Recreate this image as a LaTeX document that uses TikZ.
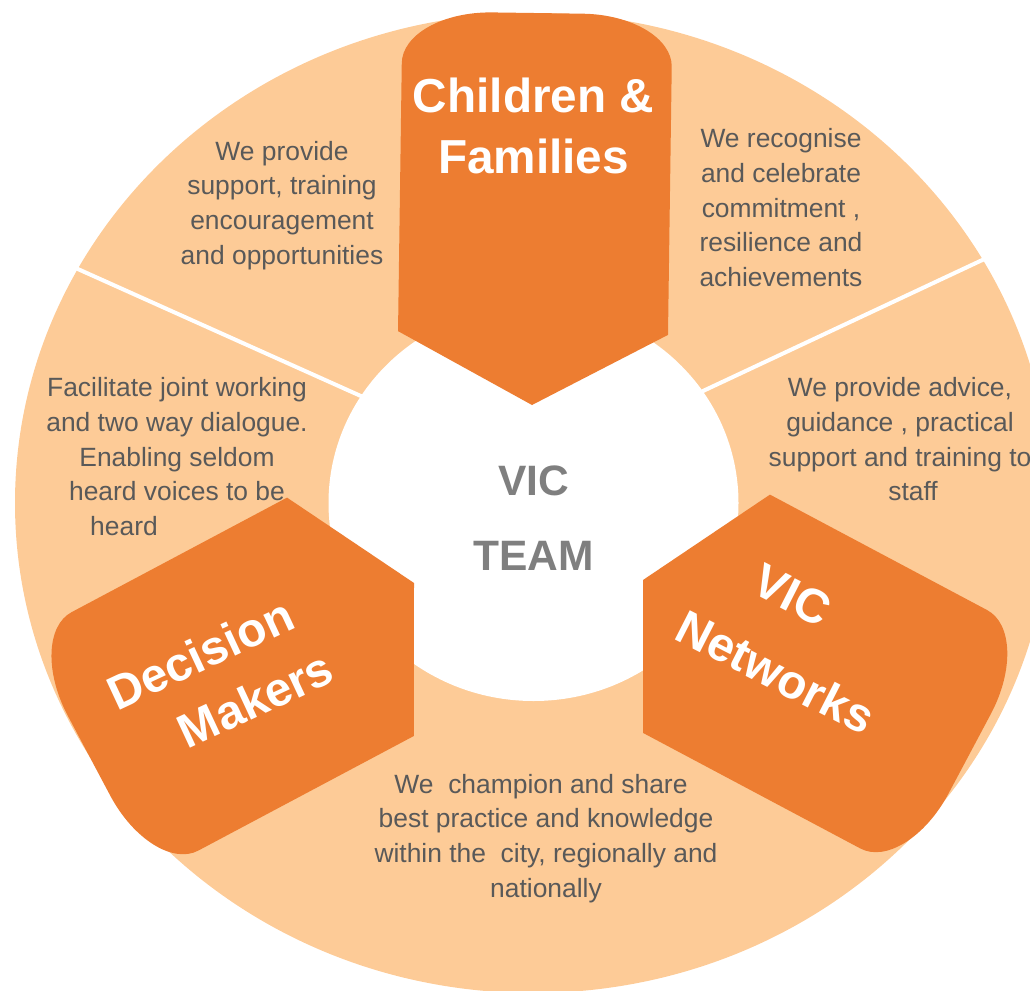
\documentclass[tikz,border=0pt]{standalone}
\usepackage{fontspec}
\setmainfont{Liberation Sans}
\definecolor{peach}{HTML}{FDCB97}
\definecolor{dorange}{HTML}{ED7D31}
\definecolor{bodygray}{HTML}{595959}
\definecolor{teamgray}{HTML}{7F7F7F}
\newcommand{\petalshape}[1]{%
  \fill[dorange] (0,0) -- (135,-72) -- (135,{-#1+52})
    .. controls (135,{-#1+23.3}) and (94.7,-#1) .. (45,-#1) -- (-45,-#1)
    .. controls (-94.7,-#1) and (-135,{-#1+23.3}) .. (-135,{-#1+52})
    -- (-135,-72) -- cycle;}
\tikzset{
  body/.style={font=\fontsize{26.4}{34.6}\selectfont, text=bodygray, align=center, inner sep=0pt, anchor=north},
  title/.style={font=\bfseries\fontsize{47.7}{61}\selectfont, text=white, inner sep=0pt},
  team/.style={font=\bfseries\fontsize{42.5}{75}\selectfont, text=teamgray, align=center, inner sep=0pt, anchor=north},
  divider/.style={draw=white, line width=4pt}
}
\begin{document}
\begin{tikzpicture}[x=1pt,y=-1pt]
\useasboundingbox (0,0) rectangle (1030,990);
\clip (0,0) rectangle (1030,990);
% outer ring
\fill[peach] (533,503) ellipse [x radius=518, y radius=490];
% dividers
\coordinate (d1a) at (70,265.5);
\coordinate (d1b) at (380,404.6);
\coordinate (d2a) at (990,256.4);
\coordinate (d2b) at (690,397.1);
\draw[divider] (d1a) -- (d1b);
\draw[divider] (d2a) -- (d2b);
% inner white circle
\fill[white] (533.5,503) ellipse [x radius=205, y radius=198];
% petals
\begin{scope}[shift={(532,405)},rotate=-0.8]
  \petalshape{392}
\end{scope}
\begin{scope}[shift={(414,583)},rotate=118]
  \petalshape{368}
\end{scope}
\begin{scope}[shift={(643,580)},rotate=-118]
  \petalshape{370}
\end{scope}
% titles
\node[title, align=center, anchor=north] (cf) at (533.5,69.3) {\strut Children \&\\Families};
\node[title, rotate=25, anchor=base] (dm1) at (207.5,669) {Decision};
\node[title, rotate=25, anchor=base] (dm2) at (262.5,715) {Makers};
\node[title, rotate=-27, anchor=base] (vn1) at (784.8,610) {VIC};
\node[title, rotate=-27, anchor=base] (vn2) at (768,687) {Networks};
\node[team] (team) at (533.5,442.5) {\strut VIC\\TEAM};
% body texts
\node[body] (t1) at (282,135.8) {\strut We provide\\support, training\\encouragement\\and opportunities};
\node[body] (t2) at (781,123.5) {\strut We recognise\\and celebrate\\commitment ,\\resilience and\\achievements};
\node[body] (t3) at (177,372.5) {\strut Facilitate joint working\\and two way dialogue.\\Enabling seldom\\heard voices to be\hspace*{41pt}\\heard\hspace*{106pt}};
\node[body] (t4) at (900,372.5) {\strut We provide advice,\\guidance , practical\\support and training to\\\hspace*{26pt}staff};
\node[body] (t5) at (546,768.8) {\strut We~ champion and share\hspace*{10pt}\\best practice and knowledge\\within the~ city, regionally and\\nationally};
\end{tikzpicture}
\end{document}
